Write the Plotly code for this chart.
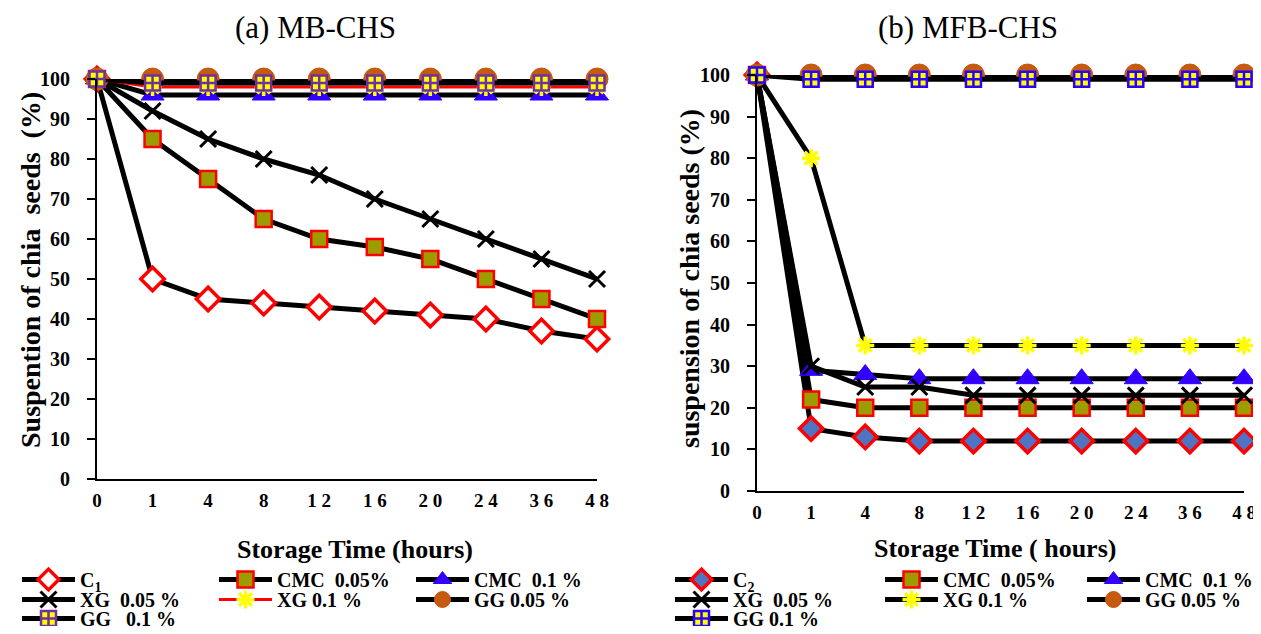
import plotly.graph_objects as go

# ---------------- data ----------------
times = ["0", "1", "4", "8", "12", "16", "20", "24", "36", "48"]
time_tick_labels = ["0", "1", "4", "8", "1 2", "1 6", "2 0", "2 4", "3 6", "4 8"]
y_ticks = [0, 10, 20, 30, 40, 50, 60, 70, 80, 90, 100]

# (a) MB-CHS
mb_c1 = [100, 50, 45, 44, 43, 42, 41, 40, 37, 35]
mb_cmc005 = [100, 85, 75, 65, 60, 58, 55, 50, 45, 40]
mb_cmc01 = [100, 96, 96, 96, 96, 96, 96, 96, 96, 96]
mb_xg005 = [100, 92, 85, 80, 76, 70, 65, 60, 55, 50]
mb_xg01 = [100, 98, 98, 98, 98, 98, 98, 98, 98, 98]
mb_gg005 = [100, 100, 100, 100, 100, 100, 100, 100, 100, 100]
mb_gg01 = [100, 99, 99, 99, 99, 99, 99, 99, 99, 99]

# (b) MFB-CHS
mfb_c2 = [100, 15, 13, 12, 12, 12, 12, 12, 12, 12]
mfb_cmc005 = [100, 22, 20, 20, 20, 20, 20, 20, 20, 20]
mfb_cmc01 = [100, 29, 28, 27, 27, 27, 27, 27, 27, 27]
mfb_xg005 = [100, 30, 25, 25, 23, 23, 23, 23, 23, 23]
mfb_xg01 = [100, 80, 35, 35, 35, 35, 35, 35, 35, 35]
mfb_gg005 = [100, 100, 100, 100, 100, 100, 100, 100, 100, 100]
mfb_gg01 = [100, 99, 99, 99, 99, 99, 99, 99, 99, 99]

names_a = ["C<sub>1</sub>", "CMC\u00a0 0.05%", "CMC\u00a0 0.1 %", "XG\u00a0 0.05 %",
           "XG 0.1 %", "GG 0.05 %", "GG\u00a0\u00a0 0.1 %"]
names_b = ["C<sub>2</sub>", "CMC\u00a0 0.05%", "CMC\u00a0 0.1 %", "XG\u00a0 0.05 %",
           "XG 0.1 %", "GG 0.05 %", "GG 0.1 %"]

FONT = "Liberation Serif"
OFF = 8                      # default page (body) margin
W, H = 1261 - 2 * OFF, 634 - 2 * OFF   # fits the window without scrolling

def fx(px):                  # page x pixel -> paper fraction
    return (px - OFF) / W

def fy(py):                  # page y pixel -> paper fraction
    return 1 - (py - OFF) / H

fig = go.Figure()

def add(xa, ya, y, name, legend, marker, line):
    fig.add_trace(go.Scatter(
        x=times, y=y, name=name, mode="lines+markers",
        xaxis=xa, yaxis=ya, legend=legend, cliponaxis=False,
        marker=marker, line=line))

BLK = dict(color="black", width=5)
CHECK = "#9c9c00"

# panel a
add("x", "y", mb_c1, names_a[0], "legend",
    dict(symbol="diamond", size=18, color="white", line=dict(color="red", width=3.5)), BLK)
add("x", "y", mb_cmc005, names_a[1], "legend",
    dict(symbol="square", size=16, color=CHECK, line=dict(color="red", width=2.5)), BLK)
add("x", "y", mb_cmc01, names_a[2], "legend",
    dict(symbol="triangle-up", size=20, color="#3300ff", line=dict(color="#3300ff", width=1)), BLK)
add("x", "y", mb_xg005, names_a[3], "legend2",
    dict(symbol="x-thin-open", size=16, color="black", line=dict(color="black", width=3)), BLK)
add("x", "y", mb_xg01, names_a[4], "legend2",
    dict(symbol="asterisk-open", size=15, color="yellow", line=dict(color="yellow", width=3.5)),
    dict(color="red", width=3))
add("x", "y", mb_gg005, names_a[5], "legend2",
    dict(symbol="circle", size=22, color="#c55a11", line=dict(color="#c55a11", width=1)), BLK)
add("x", "y", mb_gg01, names_a[6], "legend3",
    dict(symbol="square-cross", size=15, color="yellow", line=dict(color="#7030a0", width=2.5)), BLK)

# panel b
add("x2", "y2", mfb_c2, names_b[0], "legend4",
    dict(symbol="diamond", size=18, color="#4f74c4", line=dict(color="red", width=3.5)), BLK)
add("x2", "y2", mfb_cmc005, names_b[1], "legend4",
    dict(symbol="square", size=16, color=CHECK, line=dict(color="red", width=2.5)), BLK)
add("x2", "y2", mfb_cmc01, names_b[2], "legend7",
    dict(symbol="triangle-up", size=20, color="#3300ff", line=dict(color="#3300ff", width=1)), BLK)
add("x2", "y2", mfb_xg005, names_b[3], "legend5",
    dict(symbol="x-thin-open", size=16, color="black", line=dict(color="black", width=3)), BLK)
add("x2", "y2", mfb_xg01, names_b[4], "legend5",
    dict(symbol="asterisk-open", size=15, color="yellow", line=dict(color="yellow", width=3.5)), BLK)
add("x2", "y2", mfb_gg005, names_b[5], "legend8",
    dict(symbol="circle", size=22, color="#c55a11", line=dict(color="#c55a11", width=1)), BLK)
add("x2", "y2", mfb_gg01, names_b[6], "legend6",
    dict(symbol="square-cross", size=15, color="yellow", line=dict(color="#2a00ff", width=2.5)), BLK)

def xaxis(d0, d1, anchor):
    return dict(domain=[fx(d0), fx(d1)], anchor=anchor, type="category",
                categoryorder="array", categoryarray=times,
                tickmode="array", tickvals=times, ticktext=time_tick_labels,
                range=[0, 9], showline=True, linecolor="black", linewidth=2,
                ticks="outside", ticklen=3, tickcolor="rgba(0,0,0,0)",
                ticklabeloverflow="allow",
                showgrid=False, zeroline=False,
                tickfont=dict(family=FONT, size=19, color="black", weight="bold"))

def yaxis(p0, p1, anchor):
    return dict(domain=[fy(p0), fy(p1)], anchor=anchor, range=[0, 100],
                tickmode="array", tickvals=y_ticks,
                showline=True, linecolor="black", linewidth=2,
                ticks="outside", ticklen=8, tickwidth=2, tickcolor="black",
                ticklabelstandoff=13,
                showgrid=False, zeroline=False,
                tickfont=dict(family=FONT, size=20, color="black", weight="bold"))

HALF_LEG = 20
ITEM_W = 53

def legend(xpx, ycenter, ew):
    return dict(orientation="h", x=fx(xpx), y=fy(ycenter + HALF_LEG),
                xanchor="left", yanchor="bottom",
                entrywidth=ew, entrywidthmode="pixels", itemwidth=ITEM_W,
                font=dict(family=FONT, size=20, color="black", weight="bold"),
                bgcolor="rgba(0,0,0,0)", borderwidth=0, tracegroupgap=0)

fig.update_layout(
    width=W, height=H, margin=dict(l=0, r=0, t=0, b=0, autoexpand=False),
    paper_bgcolor="white", plot_bgcolor="white",
    xaxis=xaxis(97, 597, "y"), yaxis=yaxis(479, 79, "x"),
    xaxis2=xaxis(757, 1244, "y2"), yaxis2=yaxis(491, 75, "x2"),
    legend=legend(17, 579, 129), legend2=legend(17, 599, 129), legend3=legend(17, 618, 129),
    legend4=legend(670, 579, 142), legend5=legend(670, 599, 142), legend6=legend(670, 618, 142),
    legend7=legend(1082, 579, 105), legend8=legend(1082, 599, 105),
)

def ann(text, xpx, ypx, size, bold, angle=0):
    fig.add_annotation(text=text, x=fx(xpx), y=fy(ypx), xref="paper", yref="paper",
                       showarrow=False, textangle=angle, xanchor="center", yanchor="middle",
                       font=dict(family=FONT, size=size, color="black",
                                 weight="bold" if bold else "normal"))

ann("(a) MB-CHS", 315, 28, 31, False)
ann("(b) MFB-CHS", 968, 28, 31, False)
ann("Storage Time (hours)", 355, 549, 26, True)
ann("Storage Time ( hours)", 995, 548, 26, True)
ann("Suspention of chia\u00a0 seeds\u00a0 (%)", 30, 270, 28, True, -90)
ann("suspension of chia seeds (%)", 690, 279, 28, True, -90)

fig.write_html("out.html")
